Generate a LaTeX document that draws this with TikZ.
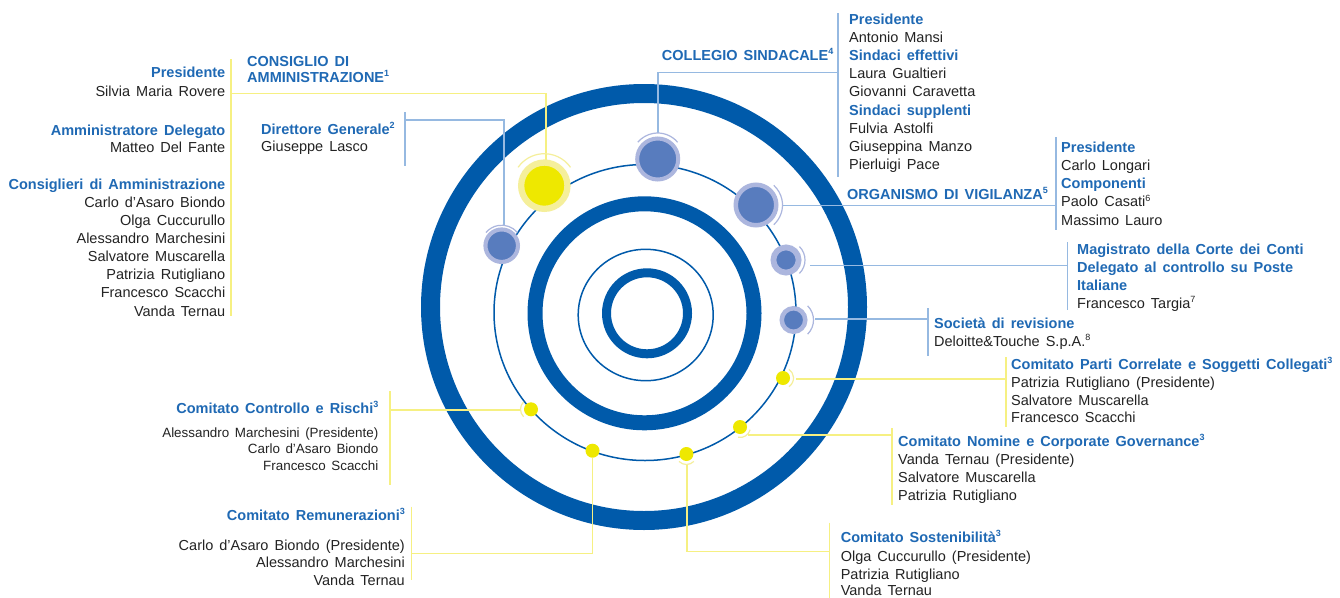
\documentclass[tikz,border=0pt]{standalone}
\usepackage{fontspec}
\setmainfont[WordSpace=1.5]{Liberation Sans}
\usetikzlibrary{calc}
\definecolor{ringblue}{RGB}{0,90,170}
\definecolor{nodeblue}{RGB}{88,124,190}
\definecolor{haloblue}{RGB}{172,182,222}
\definecolor{lineblue}{RGB}{150,185,225}
\definecolor{ylw}{RGB}{238,232,0}
\definecolor{ylwhalo}{RGB}{245,239,155}
\definecolor{ylwline}{RGB}{246,240,130}
\definecolor{hblue}{RGB}{31,105,180}
\definecolor{txt}{RGB}{35,35,35}
\newcommand\sups[1]{\raisebox{0.4em}{\fontsize{9}{9}\selectfont #1}}
\begin{document}
\begin{tikzpicture}[x=1pt,y=-1pt,
  hd/.style={font=\fontsize{14.5}{16}\selectfont\bfseries, text=hblue, inner sep=0pt},
  tx/.style={font=\fontsize{14.5}{16}\selectfont, text=txt, inner sep=0pt},
  txs/.style={font=\fontsize{13.4}{15}\selectfont, text=txt, inner sep=0pt},
  L/.style={anchor=base west}, R/.style={anchor=base east},
  bline/.style={draw=lineblue, line width=1.3pt},
  yline/.style={draw=ylwline, line width=1.3pt},
  harc/.style={draw=haloblue, line width=1.2pt},
  yarc/.style={draw=ylwhalo, line width=1.2pt},
  bdot/.style={circle, inner sep=0pt, fill=nodeblue, draw=haloblue},
  ydot/.style={circle, inner sep=0pt, fill=ylw}]
\useasboundingbox (0,0) rectangle (1340,597);
\fill[white] (0,0) rectangle (1340,597);
% rings
\draw[ringblue, line width=19pt] (644,307) circle[radius=213.5pt];
\draw[ringblue, line width=1.5pt] (645,312.5) ellipse[x radius=151pt, y radius=148pt];
\draw[ringblue, line width=15pt] (644.5,313.3) circle[radius=109.5pt];
\draw[ringblue, line width=1.5pt] (645.7,315) ellipse[x radius=67.5pt, y radius=65.7pt];
\draw[ringblue, line width=9pt] (647,313.3) circle[radius=40.5pt];
% connector coordinates
\coordinate (cdaStart) at (546,167);
\coordinate (cdaJoin) at (231,93.3);
\coordinate (cdaT) at (231,59);
\coordinate (cdaB) at (231,316);
\coordinate (dgStart) at (504,226);
\coordinate (dgJoin) at (405,120);
\coordinate (dgT) at (405,112);
\coordinate (dgB) at (405,166);
\coordinate (csStart) at (658,133);
\coordinate (csJoin) at (838,72.7);
\coordinate (csT) at (838,13);
\coordinate (csB) at (838,177);
\coordinate (odvStart) at (783,205.7);
\coordinate (odvJoin) at (1056,205.7);
\coordinate (odvT) at (1056,137);
\coordinate (odvB) at (1056,230);
\coordinate (magStart) at (810,265.7);
\coordinate (magJoin) at (1067.5,265.7);
\coordinate (magT) at (1067.5,242);
\coordinate (magB) at (1067.5,310);
\coordinate (socStart) at (815,319);
\coordinate (socJoin) at (928,319);
\coordinate (socT) at (928,308);
\coordinate (socB) at (928,356);
\coordinate (pcStart) at (796,379);
\coordinate (pcJoin) at (1006,379);
\coordinate (pcT) at (1006,357);
\coordinate (pcB) at (1006,427);
\coordinate (ncgStart) at (748,435);
\coordinate (ncgJoin) at (892,435);
\coordinate (ncgT) at (892,428);
\coordinate (ncgB) at (892,505);
\coordinate (sosStart) at (687,465);
\coordinate (sosJoin) at (829.6,551.7);
\coordinate (sosT) at (829.6,522.7);
\coordinate (sosB) at (829.6,600);
\coordinate (remStart) at (592.5,458);
\coordinate (remJoin) at (411.7,553.3);
\coordinate (remT) at (411.7,506.7);
\coordinate (remB) at (411.7,580);
\coordinate (crStart) at (520,410);
\coordinate (crJoin) at (390,410);
\coordinate (crT) at (390,391);
\coordinate (crB) at (390,485);
% connectors
\draw[yline] (cdaStart) |- (cdaJoin);
\draw[yline] (cdaT) -- (cdaB);
\draw[bline] (dgStart) |- (dgJoin);
\draw[bline] (dgT) -- (dgB);
\draw[bline] (csStart) |- (csJoin);
\draw[bline] (csT) -- (csB);
\draw[bline] (odvStart) -- (odvJoin);
\draw[bline] (odvT) -- (odvB);
\draw[bline] (magStart) -- (magJoin);
\draw[bline] (magT) -- (magB);
\draw[bline] (socStart) -- (socJoin);
\draw[bline] (socT) -- (socB);
\draw[yline] (pcStart) -- (pcJoin);
\draw[yline] (pcT) -- (pcB);
\draw[yline] (ncgStart) -- (ncgJoin);
\draw[yline] (ncgT) -- (ncgB);
\draw[yline] (sosStart) |- (sosJoin);
\draw[yline] (sosT) -- (sosB);
\draw[yline] (remStart) |- (remJoin);
\draw[yline] (remT) -- (remB);
\draw[yline] (crStart) -- (crJoin);
\draw[yline] (crT) -- (crB);
% orbit nodes
\node[ydot, draw=ylwhalo, line width=6.3pt, minimum size=46.3pt] (nCdA) at (544.3,185.7) {};
\node[bdot, line width=4.1pt, minimum size=32.5pt] (nDG) at (501.7,245.7) {};
\node[bdot, line width=4pt, minimum size=41pt] (nCS) at (657.7,159) {};
\node[bdot, line width=4.5pt, minimum size=40.5pt] (nOdV) at (756,205) {};
\node[bdot, line width=5.8pt, minimum size=25.2pt] (nMag) at (786,260) {};
\node[bdot, line width=4.5pt, minimum size=23.5pt] (nSoc) at (793.5,320) {};
\node[ydot, minimum size=14pt] (nPC) at (783,378) {};
\node[ydot, minimum size=14pt] (nNCG) at (740,427) {};
\node[ydot, minimum size=14pt] (nSos) at (686.4,454) {};
\node[ydot, minimum size=14pt] (nRem) at (592.5,450.7) {};
\node[ydot, minimum size=14pt] (nCR) at (531,409.3) {};
% arcs
\draw[yarc] ($(nCdA)+(35:32pt)$) arc[start angle=35, end angle=145, radius=32pt];
\draw[harc] ($(nDG)+(40:20.5pt)$) arc[start angle=40, end angle=140, radius=20.5pt];
\draw[harc] ($(nCS)+(40:26pt)$) arc[start angle=40, end angle=140, radius=26pt];
\draw[harc] ($(nOdV)+(-48:26.5pt)$) arc[start angle=-48, end angle=48, radius=26.5pt];
\draw[harc] ($(nMag)+(-45:19pt)$) arc[start angle=-45, end angle=45, radius=19pt];
\draw[harc] ($(nSoc)+(-45:20pt)$) arc[start angle=-45, end angle=45, radius=20pt];
\draw[yarc] ($(nPC)+(-55:10.5pt)$) arc[start angle=-55, end angle=55, radius=10.5pt];
\draw[yarc] ($(nNCG)+(-100:10.5pt)$) arc[start angle=-100, end angle=-15, radius=10.5pt];
\draw[yarc] ($(nSos)+(-135:10.5pt)$) arc[start angle=-135, end angle=-45, radius=10.5pt];
\draw[yarc] ($(nCR)+(135:10.5pt)$) arc[start angle=135, end angle=225, radius=10.5pt];
% Consiglio di Amministrazione
\node[hd,R] (t1) at (225.5,77.5) {Presidente};
\node[tx,R] (t2) at (225.5,96) {Silvia Maria Rovere};
\node[hd,R] (t3) at (225.5,135) {Amministratore Delegato};
\node[tx,R] (t4) at (225.5,152.7) {Matteo Del Fante};
\node[hd,R] (t5) at (225.5,189.3) {Consiglieri di Amministrazione};
\node[tx,R] (t6) at (225.5,207.3) {Carlo d’Asaro Biondo};
\node[tx,R] (t7) at (225.5,225.5) {Olga Cuccurullo};
\node[tx,R] (t8) at (225.5,243.6) {Alessandro Marchesini};
\node[tx,R] (t9) at (225.5,261.7) {Salvatore Muscarella};
\node[tx,R] (t10) at (225.5,279.8) {Patrizia Rutigliano};
\node[tx,R] (t11) at (225.5,297.9) {Francesco Scacchi};
\node[tx,R] (t12) at (225.5,316) {Vanda Ternau};
\node[hd,L] (t13) at (247,66) {CONSIGLIO DI};
\node[hd,L] (t14) at (247,82.7) {AMMINISTRAZIONE\sups{1}};
% Direttore
\node[hd,L] (t15) at (261,134) {Direttore Generale\sups{2}};
\node[tx,L] (t16) at (261,151.7) {Giuseppe Lasco};
% Collegio sindacale
\node[hd,L] (t17) at (661.7,60.7) {COLLEGIO SINDACALE\sups{4}};
\node[hd,L] (t18) at (849,24) {Presidente};
\node[tx,L] (t19) at (849,42.2) {Antonio Mansi};
\node[hd,L] (t20) at (849,60.4) {Sindaci effettivi};
\node[tx,L] (t21) at (849,78.6) {Laura Gualtieri};
\node[tx,L] (t22) at (849,96.8) {Giovanni Caravetta};
\node[hd,L] (t23) at (849,115) {Sindaci supplenti};
\node[tx,L] (t24) at (849,133.2) {Fulvia Astolfi};
\node[tx,L] (t25) at (849,151.4) {Giuseppina Manzo};
\node[tx,L] (t26) at (849,169.6) {Pierluigi Pace};
% Organismo di vigilanza
\node[hd,R] (t27) at (1048,199) {ORGANISMO DI VIGILANZA\sups{5}};
\node[hd,L] (t28) at (1061,152.3) {Presidente};
\node[tx,L] (t29) at (1061,170.5) {Carlo Longari};
\node[hd,L] (t30) at (1061,188.7) {Componenti};
\node[tx,L] (t31) at (1061,206.9) {Paolo Casati\sups{6}};
\node[tx,L] (t32) at (1061,225.1) {Massimo Lauro};
% Magistrato
\node[hd,L] (t33) at (1077,254) {Magistrato della Corte dei Conti};
\node[hd,L] (t34) at (1077,272.2) {Delegato al controllo su Poste};
\node[hd,L] (t35) at (1077,290.4) {Italiane};
\node[tx,L] (t36) at (1077,308.6) {Francesco Targia\sups{7}};
% Società di revisione
\node[hd,L] (t37) at (934,328) {Società di revisione};
\node[tx,L] (t38) at (934,346) {Deloitte\&Touche S.p.A.\sups{8}};
% Parti correlate
\node[hd,L] (t39) at (1011,369.3) {Comitato Parti Correlate e Soggetti Collegati\sups{3}};
\node[tx,L] (t40) at (1011,387.5) {Patrizia Rutigliano (Presidente)};
\node[tx,L] (t41) at (1011,405.2) {Salvatore Muscarella};
\node[tx,L] (t42) at (1011,422) {Francesco Scacchi};
% Nomine
\node[hd,L] (t43) at (898,446) {Comitato Nomine e Corporate Governance\sups{3}};
\node[tx,L] (t44) at (898,464.5) {Vanda Ternau (Presidente)};
\node[tx,L] (t45) at (898,482.7) {Salvatore Muscarella};
\node[tx,L] (t46) at (898,500.5) {Patrizia Rutigliano};
% Sostenibilita
\node[hd,L] (t47) at (840.6,542.7) {Comitato Sostenibilità\sups{3}};
\node[tx,L] (t48) at (840.6,561) {Olga Cuccurullo (Presidente)};
\node[tx,L] (t49) at (840.6,579.3) {Patrizia Rutigliano};
\node[tx,L] (t50) at (840.6,595.5) {Vanda Ternau};
% Controllo e rischi
\node[hd,R] (t51) at (378.5,413.3) {Comitato Controllo e Rischi\sups{3}};
\node[txs,R] (t52) at (378.5,437.3) {Alessandro Marchesini (Presidente)};
\node[txs,R] (t53) at (378.5,453.7) {Carlo d’Asaro Biondo};
\node[txs,R] (t54) at (378.5,470) {Francesco Scacchi};
% Remunerazioni
\node[hd,R] (t55) at (405,520) {Comitato Remunerazioni\sups{3}};
\node[tx,R] (t56) at (405,550) {Carlo d’Asaro Biondo (Presidente)};
\node[tx,R] (t57) at (405,567.7) {Alessandro Marchesini};
\node[tx,R] (t58) at (405,585.3) {Vanda Ternau};
\end{tikzpicture}
\end{document}
